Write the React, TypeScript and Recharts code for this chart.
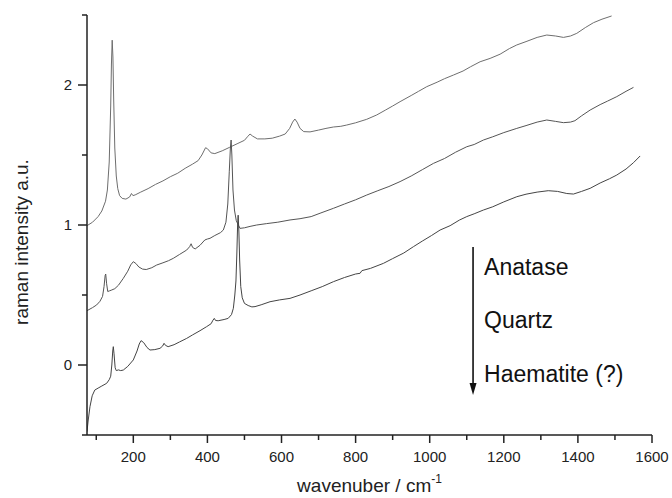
import React from "react";
import { LineChart, Line, XAxis, YAxis, ReferenceLine, ReferenceDot } from "recharts";

const FONT = "'Liberation Sans', Arial, Helvetica, sans-serif";

// wavenumber (cm^-1) / intensity pairs
const anataseX = [75, 90, 105, 115, 125, 130, 135, 139, 141, 143, 145, 147, 150, 154, 158, 163, 170, 180, 190, 195, 199, 205, 220, 240, 260, 280, 300, 320, 340, 360, 375, 385, 395, 400, 410, 420, 440, 460, 480, 500, 508, 515, 522, 535, 555, 575, 595, 610, 622, 630, 636, 642, 650, 660, 677, 700, 720, 740, 760, 776, 800, 830, 857, 880, 900, 920, 950, 970, 992, 1020, 1040, 1064, 1090, 1110, 1136, 1163, 1190, 1215, 1235, 1260, 1290, 1316, 1340, 1361, 1380, 1397, 1420, 1442, 1465, 1491];
const anataseY = [0.995, 1.02, 1.06, 1.1, 1.17, 1.25, 1.45, 1.85, 2.15, 2.32, 2.2, 1.9, 1.55, 1.35, 1.26, 1.21, 1.19, 1.185, 1.2, 1.225, 1.21, 1.215, 1.235, 1.26, 1.29, 1.315, 1.345, 1.37, 1.405, 1.435, 1.46, 1.5, 1.552, 1.545, 1.515, 1.51, 1.53, 1.555, 1.58, 1.605, 1.63, 1.65, 1.635, 1.615, 1.615, 1.62, 1.635, 1.65, 1.69, 1.735, 1.757, 1.735, 1.69, 1.667, 1.665, 1.678, 1.69, 1.7, 1.705, 1.714, 1.73, 1.755, 1.786, 1.82, 1.85, 1.881, 1.925, 1.955, 1.988, 2.02, 2.045, 2.071, 2.1, 2.13, 2.166, 2.19, 2.22, 2.26, 2.286, 2.31, 2.34, 2.357, 2.35, 2.34, 2.35, 2.369, 2.41, 2.445, 2.47, 2.493];

const quartzX = [75, 90, 101, 110, 117, 121, 124, 125.5, 128, 131, 136, 142, 150, 160, 173, 185, 193, 200, 207, 215, 225, 235, 250, 263, 280, 295, 308, 325, 344, 352, 356, 360, 367, 380, 393, 400, 407, 420, 435, 443, 450, 455, 459, 462, 464, 466, 469, 473, 478, 488, 500, 515, 533, 560, 590, 623, 650, 680, 704, 740, 770, 800, 830, 860, 890, 920, 950, 980, 1010, 1040, 1070, 1100, 1120, 1145, 1170, 1200, 1235, 1260, 1290, 1316, 1340, 1361, 1380, 1392, 1410, 1433, 1460, 1480, 1505, 1530, 1550];
const quartzY = [0.388, 0.41, 0.429, 0.455, 0.49, 0.56, 0.64, 0.65, 0.58, 0.525, 0.53, 0.536, 0.545, 0.57, 0.619, 0.67, 0.715, 0.738, 0.725, 0.7, 0.685, 0.682, 0.695, 0.714, 0.73, 0.745, 0.762, 0.79, 0.821, 0.845, 0.866, 0.84, 0.829, 0.855, 0.893, 0.9, 0.905, 0.925, 0.945, 0.964, 1.02, 1.15, 1.38, 1.55, 1.607, 1.5, 1.25, 1.107, 1.03, 0.976, 0.98, 0.99, 1.0, 1.01, 1.02, 1.036, 1.045, 1.06, 1.084, 1.119, 1.15, 1.18, 1.214, 1.245, 1.275, 1.31, 1.35, 1.395, 1.44, 1.475, 1.52, 1.559, 1.575, 1.607, 1.63, 1.66, 1.69, 1.71, 1.735, 1.75, 1.74, 1.731, 1.735, 1.745, 1.78, 1.821, 1.86, 1.885, 1.917, 1.955, 1.983];

const haematiteX = [75, 78, 83, 89, 96, 105, 115, 128, 135, 139, 142, 144.5, 146, 148, 151, 154, 160, 166, 173, 185, 200, 210, 216, 221, 228, 237, 245, 258, 272, 279, 283, 287, 294, 310, 325, 344, 360, 380, 398, 410, 415, 418.6, 422, 429, 445, 456, 465, 470, 474, 477, 479.5, 481.5, 483, 485, 487, 490, 494, 500, 510, 520, 528.5, 545, 569, 595, 623, 650, 680, 710, 740, 770, 800, 812, 817, 840, 875, 900, 930, 956, 980, 1005, 1028, 1055, 1080, 1100, 1120, 1145, 1170, 1200, 1235, 1260, 1290, 1320, 1345, 1370, 1388, 1410, 1433, 1460, 1485, 1505, 1530, 1550, 1568];
const haematiteY = [-0.476, -0.4, -0.298, -0.22, -0.179, -0.165, -0.15, -0.131, -0.105, -0.08, 0.0, 0.1, 0.131, 0.08, -0.02, -0.04, -0.035, -0.04, -0.036, -0.01, 0.036, 0.1, 0.15, 0.174, 0.16, 0.125, 0.107, 0.11, 0.119, 0.135, 0.155, 0.14, 0.131, 0.145, 0.165, 0.19, 0.215, 0.245, 0.274, 0.295, 0.32, 0.333, 0.318, 0.316, 0.325, 0.333, 0.36, 0.405, 0.5, 0.6, 0.8, 1.0, 1.07, 0.95, 0.75, 0.56, 0.48, 0.44, 0.425, 0.415, 0.417, 0.43, 0.452, 0.465, 0.476, 0.5, 0.53, 0.56, 0.595, 0.625, 0.65, 0.655, 0.674, 0.69, 0.726, 0.76, 0.8, 0.845, 0.885, 0.925, 0.964, 0.995, 1.035, 1.06, 1.08, 1.107, 1.13, 1.165, 1.202, 1.22, 1.235, 1.245, 1.24, 1.225, 1.221, 1.24, 1.262, 1.3, 1.33, 1.357, 1.4, 1.445, 1.493];

const xTicks = [100, 200, 300, 400, 500, 600, 700, 800, 900, 1000, 1100, 1200, 1300, 1400, 1500, 1600];
const xMajor = [200, 400, 600, 800, 1000, 1200, 1400, 1600];
const yTicks = [-0.5, 0, 0.5, 1, 1.5, 2, 2.5];
const yMajor = [0, 1, 2];

const annotationLabels = ["Anatase", "Quartz", "Haematite (?)"];
const annotationY = [0.704, 0.321, -0.064];
const arrowX = 1117;
const arrowTop = 0.843;
const arrowBottom = -0.214;

const toPts = (xs: number[], ys: number[]) => xs.map((x, i) => ({ x, y: ys[i] }));
const anatase = toPts(anataseX, anataseY);
const quartz = toPts(quartzX, quartzY);
const haematite = toPts(haematiteX, haematiteY);

const AXIS = "#222";

const XTick = (props: any) => {
  const { x, y, payload } = props;
  const major = xMajor.includes(payload.value);
  return (
    <g>
      <line x1={x} x2={x} y1={y} y2={y + (major ? 8 : 5)} stroke={AXIS} strokeWidth={1.5} />
      {major && (
        <text x={x} y={y + 27} textAnchor="middle" fontSize={15} fill="#222" fontFamily={FONT}>
          {payload.value}
        </text>
      )}
    </g>
  );
};

const YTick = (props: any) => {
  const { x, y, payload } = props;
  const major = yMajor.includes(payload.value);
  return (
    <g>
      <line x1={x - (major ? 9 : 5)} x2={x} y1={y} y2={y} stroke={AXIS} strokeWidth={1.5} />
      {major && (
        <text x={x - 15} y={y + 5.3} textAnchor="end" fontSize={15} fill="#222" fontFamily={FONT}>
          {payload.value}
        </text>
      )}
    </g>
  );
};

const Arrow = (p: any) => {
  const { x1, y1, x2, y2 } = p;
  return (
    <g>
      <line x1={x1} y1={y1} x2={x2} y2={y2 - 10} stroke="#111" strokeWidth={1.6} />
      <polygon points={`${x2 - 3.5},${y2 - 12} ${x2 + 3.5},${y2 - 12} ${x2},${y2}`} fill="#111" />
    </g>
  );
};

export default function App() {
  return (
    <div style={{ position: "absolute", left: 0, top: 0, width: 672, height: 498, background: "#fff" }}>
      <LineChart width={672} height={498} margin={{ top: 15, right: 20, bottom: 23, left: 27 }}>
        <XAxis
          type="number"
          dataKey="x"
          domain={[75, 1600]}
          ticks={xTicks}
          interval={0}
          tickSize={0}
          tickMargin={0}
          tickLine={false}
          tick={<XTick />}
          height={40}
          axisLine={{ stroke: AXIS, strokeWidth: 1.5 }}
          allowDataOverflow
          label={{
            content: (lp: any) => {
              const vb = lp.viewBox;
              return (
                <text x={vb.x + vb.width / 2} y={vb.y + 57} textAnchor="middle" fontSize={19} fill="#222" fontFamily={FONT}>
                  wavenuber / cm
                  <tspan fontSize={12} dy={-9}>-1</tspan>
                </text>
              );
            },
          }}
        />
        <YAxis
          type="number"
          dataKey="y"
          domain={[-0.5, 2.5]}
          ticks={yTicks}
          interval={0}
          tickSize={0}
          tickMargin={0}
          tickLine={false}
          tick={<YTick />}
          width={60}
          axisLine={{ stroke: AXIS, strokeWidth: 1.5 }}
          allowDataOverflow
          label={{
            content: () => (
              <text
                x={28}
                y={242}
                transform="rotate(-90, 28, 242)"
                textAnchor="middle"
                fontSize={19}
                fill="#222"
                fontFamily={FONT}
              >
                raman intensity a.u.
              </text>
            ),
          }}
        />
        <Line data={anatase} dataKey="y" type="linear" stroke="#6e6e6e" strokeWidth={1} dot={false} isAnimationActive={false} />
        <Line data={quartz} dataKey="y" type="linear" stroke="#555" strokeWidth={1} dot={false} isAnimationActive={false} />
        <Line data={haematite} dataKey="y" type="linear" stroke="#444" strokeWidth={1} dot={false} isAnimationActive={false} />
        <ReferenceLine
          segment={[
            { x: arrowX, y: arrowTop },
            { x: arrowX, y: arrowBottom },
          ]}
          shape={<Arrow />}
        />
        {annotationLabels.map((t, i) => (
          <ReferenceDot
            key={t}
            x={arrowX}
            y={annotationY[i]}
            r={0}
            fill="none"
            stroke="none"
            label={{ value: t, position: "right", offset: 11, fontSize: 23, fill: "#111", fontFamily: FONT }}
          />
        ))}
      </LineChart>
    </div>
  );
}
